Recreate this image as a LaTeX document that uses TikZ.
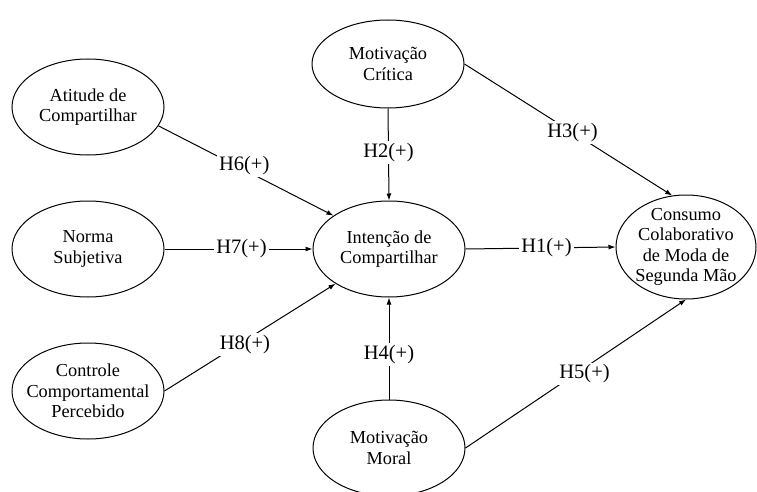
\documentclass[tikz,border=0pt]{standalone}
\usepackage{fontspec}
\setmainfont{Liberation Serif}
\newfontfamily\tnr{Liberation Serif}
\usetikzlibrary{shapes.geometric,arrows.meta}
\begin{document}
\begin{tikzpicture}[x=1pt,y=-1pt,
  ell/.style={draw, ellipse, line width=1pt, inner sep=0pt, minimum width=152pt, minimum height=96pt},
  txt/.style={align=center, font=\tnr\fontsize{18.3}{20.5}\selectfont, inner sep=0pt},
  hyp/.style={fill=white, inner sep=2pt, font=\tnr\fontsize{20.5}{22}\selectfont},
  conn/.style={line width=1pt, -{Latex[length=7pt,width=5pt]}}]
\useasboundingbox (0,0) rectangle (757,492);
\fill[white] (0,0) rectangle (757,492);
% ellipses
\node[ell] (att) at (88,107) {};
\node[ell] (nor) at (88,249) {};
\node[ell] (ctl) at (88,391) {};
\node[ell, minimum height=88pt] (cri) at (388,64) {};
\node[ell] (int) at (389,249) {};
\node[ell] (mor) at (389,448) {};
\node[ell, minimum width=140pt, minimum height=104pt] (con) at (686,247) {};
% texts
\node[txt] (att-t) at (att) {Atitude de\\Compartilhar};
\node[txt] (nor-t) at (nor) {Norma\\Subjetiva};
\node[txt] (ctl-t) at (ctl) {Controle\\Comportamental\\Percebido};
\node[txt] (cri-t) at (cri) {Motivação\\Crítica};
\node[txt] (int-t) at (int) {Intenção de\\Compartilhar};
\node[txt] (mor-t) at (mor) {Motivação\\Moral};
\node[txt] (con-t) at (con) {Consumo\\Colaborativo\\de Moda de\\Segunda Mão};
% connectors
\draw[conn] (att.-15) -- node[hyp, pos=0.49, yshift=4pt] (h6) {H6(+)} (int.149);
\draw[conn] (nor.east) -- node[hyp, pos=0.52] (h7) {H7(+)} (int.west);
\draw[conn] (ctl.east) -- node[hyp, pos=0.47, yshift=-4pt] (h8) {H8(+)} (int.213);
\draw[conn] (cri.south) -- node[hyp, pos=0.48] (h2) {H2(+)} (int.north);
\draw[conn] (mor.north) -- node[hyp, pos=0.44] (h4) {H4(+)} (int.south);
\draw[conn] (int.east) -- node[hyp, pos=0.54] (h1) {H1(+)} (con.west);
\draw[conn] (cri.east) -- node[hyp, pos=0.52] (h3) {H3(+)} (con.105);
\draw[conn] (mor.east) -- node[hyp, pos=0.54, yshift=-6pt] (h5) {H5(+)} (con.south);
\end{tikzpicture}
\end{document}
